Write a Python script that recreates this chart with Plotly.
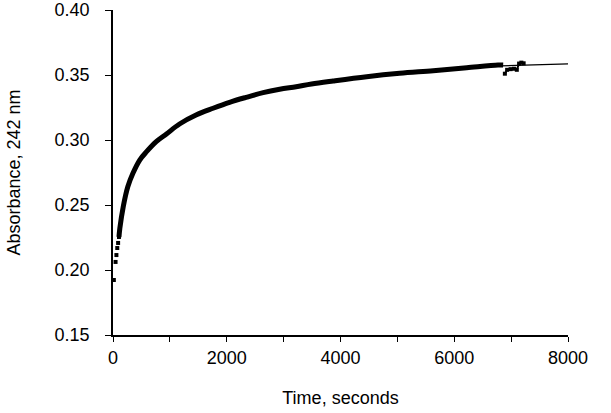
import plotly.graph_objects as go

# Early discrete readings (seconds, absorbance)
early_t = [15, 45, 60, 75, 90, 105]
early_abs = [0.1923, 0.2062, 0.2115, 0.2169, 0.2208, 0.2254]

# Dense main data (drawn as thick trace)
main_t = [105, 120, 180, 260, 350, 470, 590, 760, 940, 1170, 1460, 1760, 2050,
          2340, 2640, 2930, 3220, 3490, 3870, 4460, 5040, 5630, 6220, 6770, 6860]
main_abs = [0.2254, 0.2320, 0.2487, 0.2640, 0.2744, 0.2846, 0.2910, 0.2987, 0.3046,
            0.3123, 0.3192, 0.3244, 0.3290, 0.3328, 0.3364, 0.3390, 0.3410, 0.3431,
            0.3454, 0.3487, 0.3513, 0.3533, 0.3556, 0.3577, 0.3577]

# Scattered readings at the end of the run
tail_t = [6890, 6930, 6990, 7050, 7100, 7140, 7180, 7220]
tail_abs = [0.3510, 0.3540, 0.3545, 0.3548, 0.3540, 0.3588, 0.3595, 0.3590]

# Fitted curve (thin line)
fit_t = [6500, 7000, 7500, 8000]
fit_abs = [0.3566, 0.3574, 0.3580, 0.3585]

x_ticks = [0, 2000, 4000, 6000, 8000]
y_ticks = [0.15, 0.20, 0.25, 0.30, 0.35, 0.40]

fig = go.Figure()
fig.add_trace(go.Scatter(x=fit_t, y=fit_abs, mode="lines",
                         line=dict(color="black", width=1.3), showlegend=False))
fig.add_trace(go.Scatter(x=main_t, y=main_abs, mode="lines",
                         line=dict(color="black", width=5, shape="spline"), showlegend=False))
fig.add_trace(go.Scatter(x=early_t, y=early_abs, mode="markers",
                         marker=dict(symbol="square", size=4, color="black"), showlegend=False))
fig.add_trace(go.Scatter(x=tail_t, y=tail_abs, mode="lines+markers",
                         line=dict(color="black", width=2),
                         marker=dict(symbol="square", size=4, color="black"), showlegend=False))

font = "Liberation Sans, Arial, sans-serif"
fig.update_layout(
    width=611, height=413,
    margin=dict(l=113, r=43, t=10, b=78),
    paper_bgcolor="white", plot_bgcolor="white",
    font=dict(family=font, size=18, color="black"),
    xaxis=dict(range=[0, 8000], tickvals=x_ticks, ticktext=[str(v) for v in x_ticks],
               automargin=False, ticklabeloverflow="allow",
               showgrid=False, zeroline=False, showline=True, linecolor="black", linewidth=1.5,
               ticks="outside", ticklen=5, tickcolor="black", tickwidth=1.2,
               minor=dict(dtick=1000, ticks="outside", ticklen=5, tickcolor="black", tickwidth=1.2),
               ticklabelstandoff=1,
               title=dict(text="Time, seconds", font=dict(size=18), standoff=24)),
    yaxis=dict(range=[0.15, 0.40], tickvals=y_ticks, ticktext=[f"{v:.2f}" for v in y_ticks],
               automargin=False, ticklabeloverflow="allow",
               showgrid=False, zeroline=False, showline=True, linecolor="black", linewidth=1.5,
               ticks="outside", ticklen=6, tickcolor="black", tickwidth=1.2,
               ticklabelstandoff=12,
               title=dict(text="Absorbance, 242 nm", font=dict(size=18), standoff=29)),
)
fig.write_html("out.html", config={"displayModeBar": False},
               post_script="document.body.style.margin='0';")
